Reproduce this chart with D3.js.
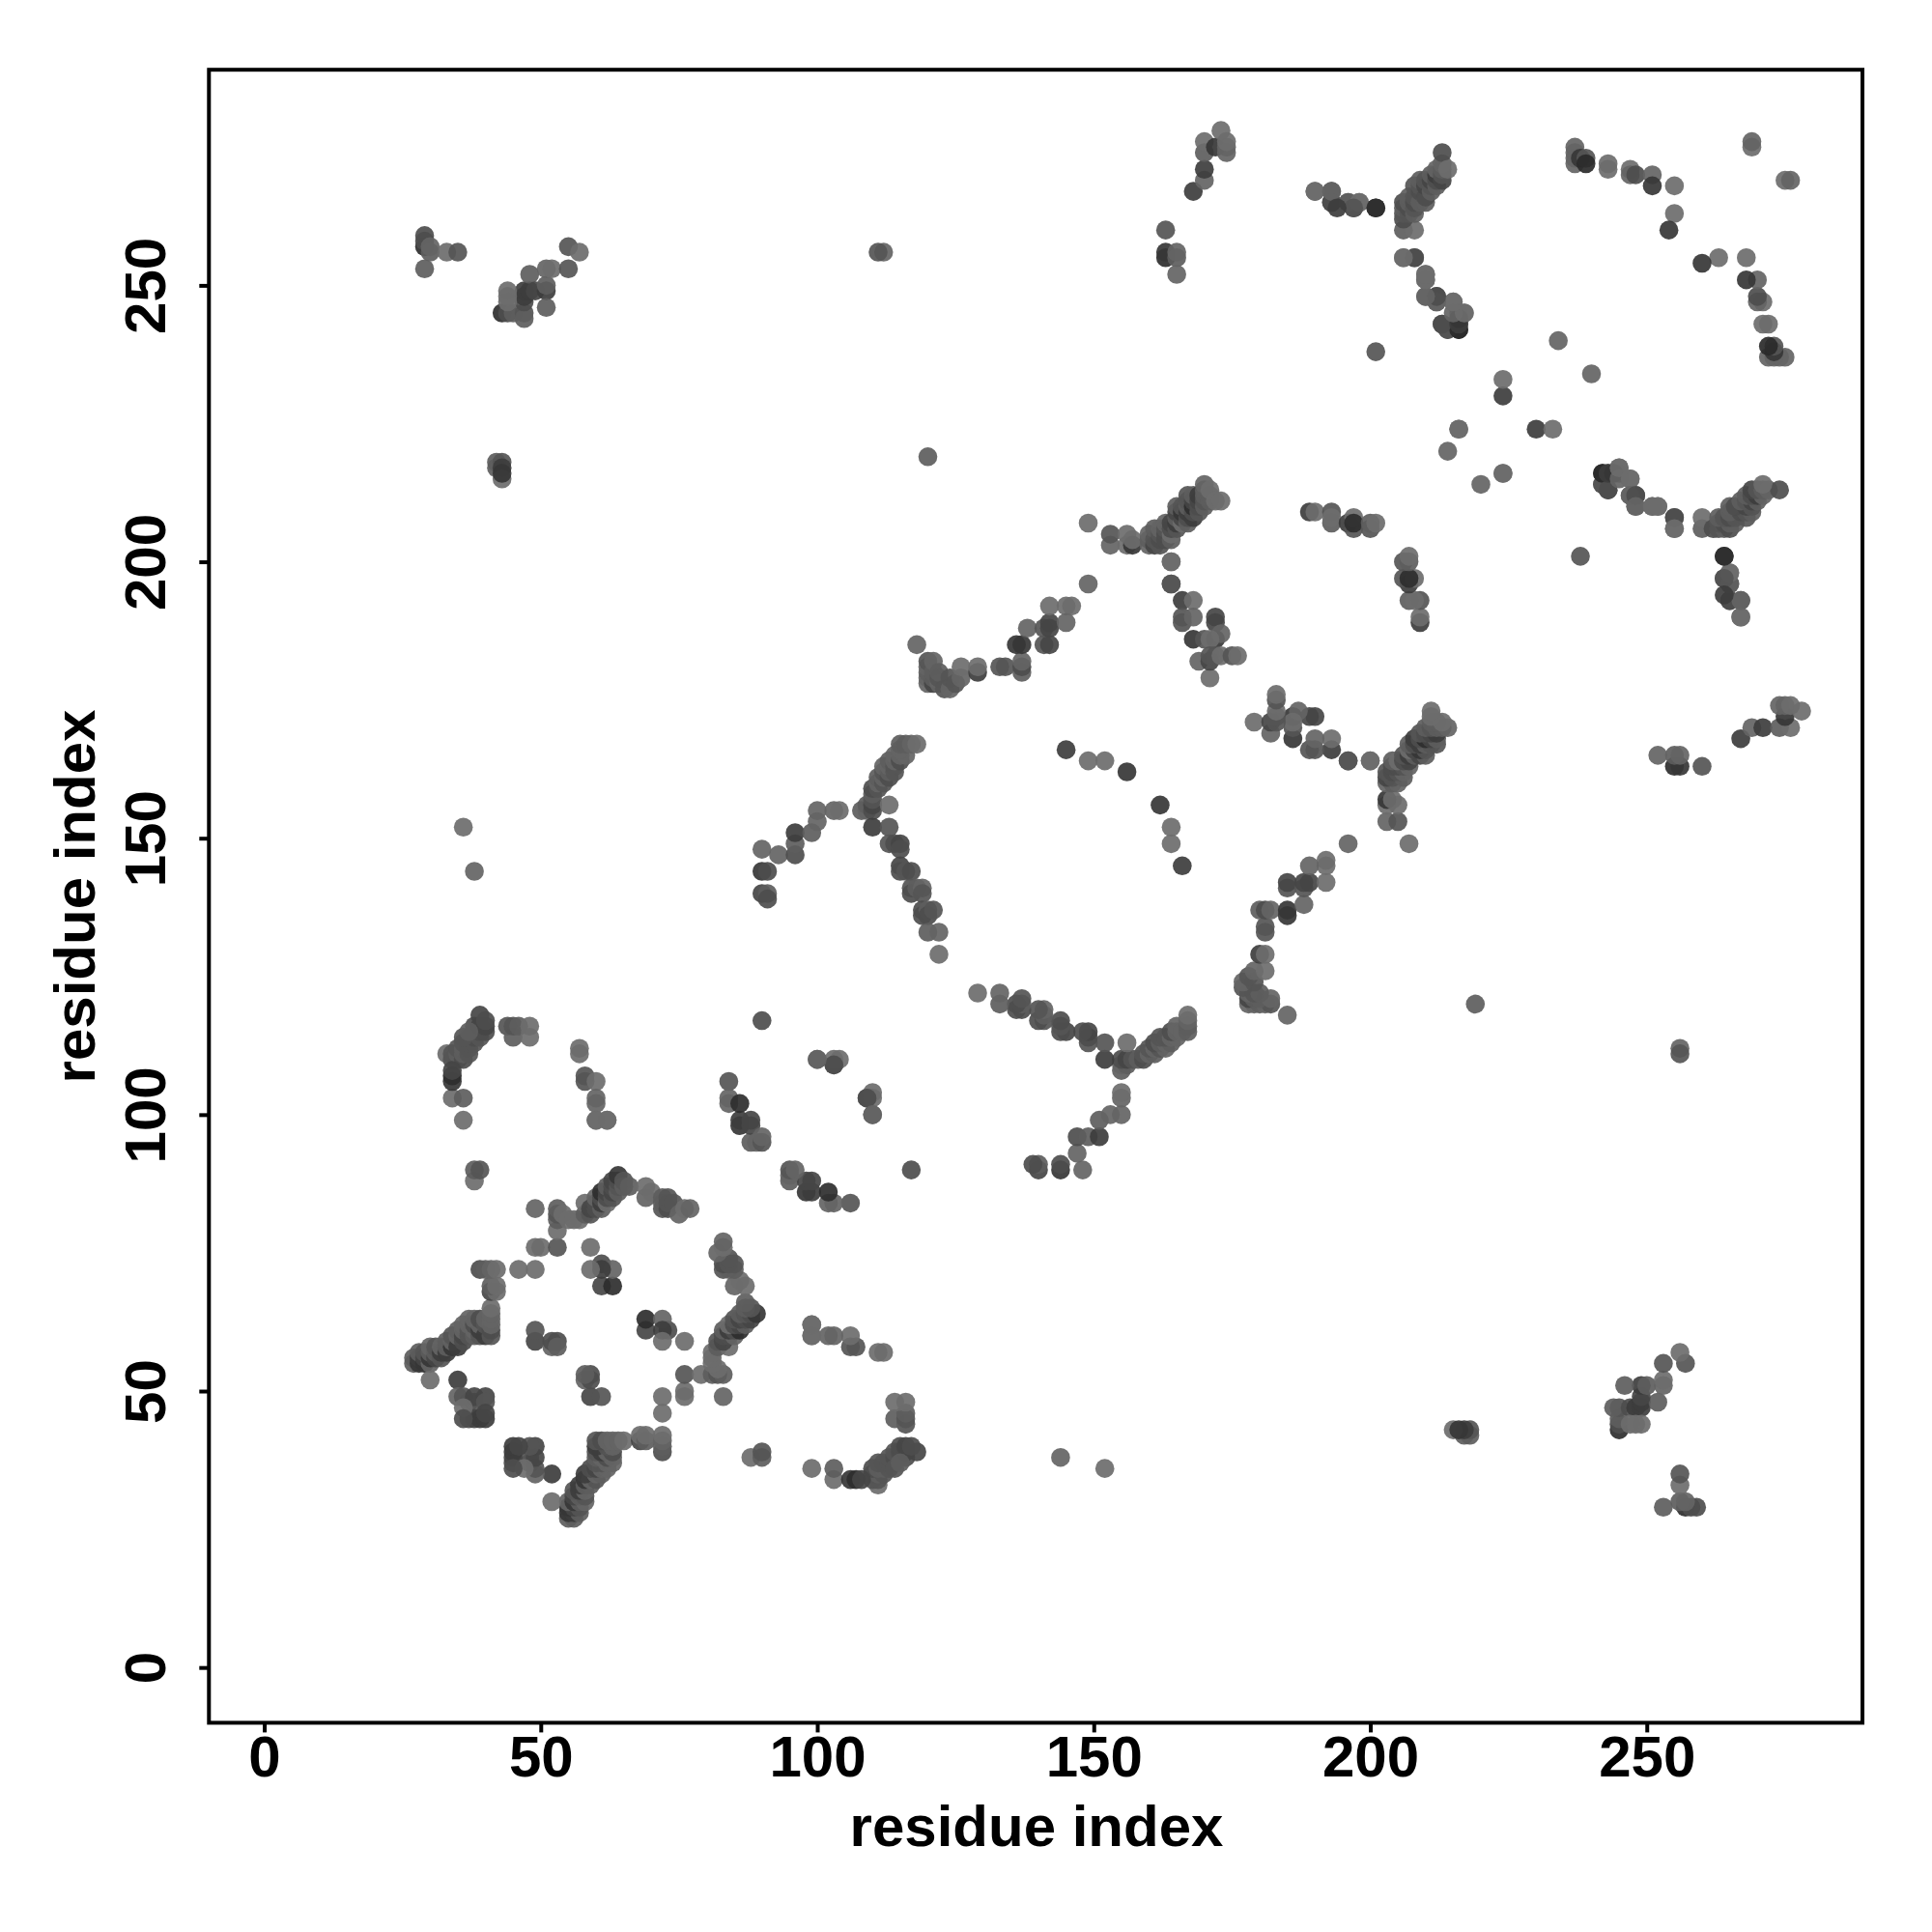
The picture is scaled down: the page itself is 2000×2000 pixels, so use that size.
<!DOCTYPE html>
<html><head><meta charset="utf-8">
<style>html,body{margin:0;padding:0;background:#fff}svg{display:block}text{font-family:"Liberation Sans",Arial,sans-serif;font-weight:bold;fill:#000}</style>
<script src="https://cdn.jsdelivr.net/npm/d3@7"></script></head><body>
<svg id="c" width="2000" height="2000"></svg>
<script>
// Residue contacts: [residue i, residue j, contact strength 0..1]
const rosetteLeft=[[27,55,.3],[27,56,.3],[28,55,.8],[28,56,.7],[28,57,.3],[29,55,.8],[29,56,.6],[29,57,.4],[30,55,.2],[30,56,.8],[30,57,.3],[30,58,.2],[31,56,.6],[31,57,.3],[31,58,.4],[32,56,.4],[32,57,.7],[32,58,.2],[33,57,.7],[33,58,.3],[33,59,.3],[34,58,.8],[34,59,.2],[34,60,.4],[35,58,.7],[35,60,.2],[35,61,.3],[36,59,.5],[36,60,.6],[36,61,.2],[36,62,.2],[37,60,.4],[37,61,.4],[37,62,.2],[37,63,.2],[38,60,.3],[38,61,.2],[38,62,.5],[38,63,.2],[39,60,.4],[39,61,.7],[39,62,.2],[39,63,.5],[40,60,.7],[40,62,.4],[40,63,.2],[41,60,.4],[41,61,.5],[41,62,.2],[41,63,.2],[41,64,.2],[41,65,.1],[41,68,.6],[42,68,.1],[41,69,.3],[42,69,.1],[39,72,.5],[40,72,.3],[41,72,.2],[42,72,.1],[46,72,.1],[49,72,.1]];
const rosetteTop=[[49,76,.1],[50,76,.1],[53,76,.4],[49,83,.2],[53,79,.1],[53,81,.3],[53,82,.4],[53,83,.3],[54,82,.1],[55,81,.1],[56,81,.1],[57,81,.1],[58,82,.3],[58,84,.1],[59,82,.4],[59,83,.6],[60,83,.5],[60,84,.5],[60,85,.2],[61,83,.3],[61,84,.7],[61,85,.5],[61,86,.9],[62,84,.1],[62,85,.5],[62,86,.6],[62,87,.3],[63,85,.4],[63,86,.6],[63,87,.5],[63,88,.6],[64,86,.3],[64,87,.4],[64,88,.5],[64,89,.8],[65,87,.3],[65,88,.4],[66,87,.3],[69,85,.2],[69,87,.1],[70,86,.1],[72,83,.4],[72,84,.3],[72,85,.3],[73,83,.5],[73,84,.4],[73,85,.4],[74,84,.4],[75,82,.2],[76,83,.1],[77,83,.2]];
const rosetteInner=[[49,59,.6],[49,61,.4],[52,58,.2],[52,59,.5],[53,59,.5],[59,76,.1],[61,69,.6],[63,69,.9],[61,73,.5],[63,72,.2],[61,72,.7],[59,72,.1],[53,58,.3],[30,52,.1],[35,52,.7],[35,49,.2],[36,49,.4],[37,48,.4],[38,48,.4],[38,49,.6],[40,49,.6],[40,48,.4],[37,45,.5],[38,45,.6],[39,45,.7],[40,45,.7],[40,46,.6],[36,47,.1],[36,45,.5]];
const helixLow=[[33,111,.1],[34,110,.4],[34,111,.4],[35,110,.4],[35,111,.3],[35,112,.4],[36,110,.5],[36,111,.3],[36,112,.3],[36,113,.4],[37,111,.4],[37,112,.4],[37,113,.4],[37,114,.5],[38,113,.4],[38,114,.5],[38,115,.5],[38,116,.5],[39,114,.4],[39,115,.5],[39,116,.6],[39,118,.6],[40,115,.5],[40,116,.6],[40,117,.5],[34,103,.1],[34,106,.8],[34,107,.9],[34,108,.6],[36,103,.3],[36,99,.1],[38,88,.1],[38,90,.3],[39,90,.4],[44,116,.4],[45,114,.3],[45,116,.4],[46,116,.3],[48,114,.1],[48,116,.1],[57,111,.1],[57,112,.1],[58,106,.4],[58,107,.4],[60,106,.1],[60,102,.2],[60,103,.2],[60,99,.1],[62,99,.1]];
const farLow=[[84,106,.4],[84,102,.2],[84,103,.2],[86,98,.8],[86,99,.7],[86,102,.9],[88,95,.3],[88,98,.6],[88,99,.6],[89,95,.2],[90,95,.4],[90,96,.2],[90,117,.5],[100,110,.4],[103,109,.5],[104,110,.1],[103,110,.1],[103,109,.5],[100,110,.2],[29,253,.3],[29,257,.9],[29,258,.5],[29,259,.5],[30,256,.3],[30,257,.2],[33,256,.1],[35,256,.4],[38,144,.2],[36,152,.1],[36,114,.4],[37,115,.3],[60,99,.1],[62,99,.1]];
const strandB=[[108,155,.3],[109,155,.2],[109,156,.3],[110,155,.5],[110,156,.6],[110,157,.4],[110,158,.3],[110,159,.5],[111,159,.4],[111,160,.2],[111,161,.3],[112,160,.4],[112,161,.2],[112,162,.4],[112,163,.2],[113,156,.1],[113,161,.5],[113,162,.3],[113,163,.2],[113,164,.3],[114,162,.4],[114,163,.4],[114,164,.2],[114,165,.2],[115,164,.5],[115,165,.2],[116,165,.2],[115,166,.2],[115,167,.3],[116,167,.3],[117,167,.2],[118,167,.1],[110,152,.7],[113,152,.4],[113,149,.4],[114,149,.5],[115,149,.6],[115,148,.5],[115,145,.6],[115,144,.5],[116,144,.4],[117,144,.5],[117,141,.4],[117,140,.5],[118,141,.3],[119,141,.2],[119,140,.4],[119,137,.5],[119,136,.5],[120,137,.3],[120,136,.5],[120,133,.3],[121,137,.4],[122,133,.2],[122,129,.1],[145,166,.7],[149,164,.1],[152,164,.1],[156,162,.8]];
const strandC=[[90,140,.6],[91,140,.3],[91,139,.5],[90,144,.8],[91,144,.5],[90,148,.2],[93,147,.2],[96,147,.5],[96,149,.3],[96,151,.7],[99,151,.3],[100,153,.2],[100,155,.2],[103,155,.2],[104,155,.1]];
const strandD=[[118,185,.2],[120,178,.2],[120,179,.2],[120,180,.3],[120,181,.2],[120,182,.4],[121,178,.6],[121,179,.3],[121,180,.3],[121,182,.2],[122,178,.2],[122,179,.4],[122,180,.3],[123,177,.4],[124,177,.2],[124,179,.4],[125,178,.4],[126,179,.2],[126,181,.1],[129,180,.7],[129,181,.1],[133,181,.4],[134,181,.4],[137,180,.3],[137,181,.5],[137,182,.2],[137,185,.8],[136,185,.8],[138,188,.2],[141,185,.4],[142,185,.6],[141,188,.4],[142,188,.6],[142,189,.6],[142,192,.1],[145,192,.1],[146,192,.1],[145,189,.2],[149,196,.2],[149,207,.1],[153,203,.2],[153,205,.4],[156,203,.1],[156,205,.1],[157,203,.8],[157,204,.1]];
const strandE=[[160,203,.2],[160,204,.3],[160,205,.2],[161,203,.6],[161,204,.4],[161,206,.3],[162,203,.4],[162,204,.5],[162,205,.4],[162,206,.2],[163,204,.5],[163,205,.5],[163,206,.4],[163,207,.2],[164,204,.3],[164,205,.1],[164,206,.5],[164,207,.6],[165,206,.4],[165,207,.7],[165,208,.3],[165,209,.6],[165,210,.3],[166,207,.1],[166,208,.6],[166,209,.8],[166,210,.4],[167,207,.3],[167,208,.5],[167,209,.7],[167,210,.3],[167,211,.4],[167,212,.4],[168,208,.7],[168,209,.5],[168,210,.9],[168,211,.6],[168,212,.3],[169,209,.4],[169,210,.5],[169,211,.6],[169,212,.7],[170,210,.3],[170,211,.4],[170,212,.3],[170,213,.3],[170,214,.2],[171,211,.3],[171,212,.3],[171,213,.1],[172,211,.1],[173,211,.1]];
const strandF=[[164,200,.1],[164,196,.4],[166,193,.7],[168,193,.1],[166,189,.4],[166,190,.4],[168,190,.2],[168,186,.8],[170,186,.4],[172,186,.8],[172,190,.6],[172,189,.6],[173,187,.2],[171,186,.1],[169,182,.2],[171,179,.1],[171,182,.6],[171,183,.4],[172,183,.4],[173,183,.1],[175,183,.4],[176,183,.1]];
const strandG=[[189,209,.7],[190,209,.1],[193,209,.4],[193,207,.3],[193,208,.1],[196,207,.7],[197,206,.4],[197,208,.1],[197,207,.9],[200,206,.4],[200,207,.3],[201,207,.1],[164,196,.4],[164,200,.1]];
const topRight=[[163,260,.4],[163,255,.9],[163,256,.8],[165,255,.3],[165,256,.2],[165,252,.2],[168,267,.7],[170,269,.2],[170,271,.7],[170,274,.3],[170,276,.1],[172,275,.8],[173,278,.1],[174,274,.2],[174,275,.2],[174,276,.1],[190,267,.1],[193,267,.6],[193,265,.7],[196,265,.1],[197,264,.8],[198,265,.1],[201,264,.9],[201,238,.4],[206,255,.1],[208,255,.5],[206,260,.3],[208,260,.1],[206,262,.5],[206,263,.4],[206,264,.3],[206,265,.5],[207,263,.4],[207,264,.5],[207,265,.3],[207,266,.3],[208,263,.3],[208,264,.4],[208,265,.5],[208,266,.4],[208,268,.4],[209,265,.3],[209,267,.5],[209,268,.4],[209,269,.3],[210,265,.3],[210,266,.5],[210,268,.6],[210,269,.4],[211,267,.3],[211,268,.4],[211,269,.6],[211,270,.3],[212,268,.3],[212,269,.5],[212,270,.7],[212,271,.2],[213,269,.6],[213,270,.4],[213,271,.3],[213,272,.2],[213,274,.5],[214,271,.1],[210,251,.3],[210,252,.1],[210,248,.1],[212,248,.6],[212,247,.4],[215,247,.1],[216,245,.3],[217,245,.1],[213,243,.6],[214,242,.6],[216,242,.95],[216,243,.7],[216,244,.2],[224,230,.7],[224,233,.1],[216,224,.1],[214,220,.2],[224,216,.1],[234,240,.2]];
const arcTop=[[237,275,.2],[237,274,.2],[237,273,.2],[237,272,.2],[238,273,.8],[239,273,.4],[239,272,.95],[243,272,.1],[243,271,.1],[247,271,.1],[247,270,.2],[248,270,.5],[251,270,.2],[251,268,.8],[255,268,.1],[255,263,.1],[254,260,.8],[269,275,.1],[269,276,.2]];
const arcMid=[[242,214,.4],[242,216,.95],[243,213,.5],[243,216,.7],[244,216,.8],[245,215,.2],[245,217,.1],[247,215,.1],[247,212,.2],[248,212,.5],[248,210,.2],[251,210,.1],[252,210,.1],[255,208,.5],[255,206,.1]];
const rightLow=[[120,219,.3],[112,256,.2],[111,256,.4],[42,217,.3],[42,218,.3],[43,218,.4],[43,217,.7],[43,215,.1],[43,216,.8]];
const bottomRight=[[43,245,.9],[44,245,.5],[45,245,.3],[47,245,.4],[47,244,.3],[47,247,.5],[47,248,.7],[47,249,.7],[48,249,.7],[48,252,.3],[49,249,.6],[51,249,.7],[51,250,.3],[51,246,.3],[51,253,.2],[52,253,.1],[55,253,.4],[55,257,.4],[57,256,.1],[44,248,.1],[44,249,.1],[44,247,.1]];
const highFar=[[190,267,.1],[193,265,.5],[193,267,.2],[196,265,.3],[198,265,.1],[201,264,.9],[197,264,.4],[194,264,.7]];
const tickValues=[0,50,100,150,200,250];
const axisTitle="residue index";

const contacts=[...rosetteLeft,...rosetteTop,...rosetteInner,...helixLow,...farLow,...strandB,...strandC,...strandD,...strandE,...strandF,...strandG,...topRight,...arcTop,...arcMid,...rightLow,...bottomRight,...highFar];
const points=contacts.flatMap(([i,j,s])=>[{x:i,y:j,s},{x:j,y:i,s}]);

const x=d3.scaleLinear().domain([-10,289]).range([216.3,1928]);
const y=d3.scaleLinear().domain([-10,289]).range([1783.4,72.2]);
const grey=d3.scaleLinear().domain([0,1]).range(["#747474","#262626"]);
const svg=d3.select("#c");
svg.append("g").selectAll("circle").data(points).join("circle")
  .attr("cx",d=>x(d.x)).attr("cy",d=>y(d.y)).attr("r",9.8)
  .attr("fill",d=>grey(d.s)).attr("fill-opacity",0.92);
svg.append("rect").attr("x",216.3).attr("y",72.2).attr("width",1928-216.3).attr("height",1783.4-72.2)
  .attr("fill","none").attr("stroke","#000").attr("stroke-width",4);
const ax=svg.append("g").attr("transform","translate(0,1783.4)").call(d3.axisBottom(x).tickValues(tickValues).tickSize(10).tickPadding(10));
const ay=svg.append("g").attr("transform","translate(216.3,0)").call(d3.axisLeft(y).tickValues(tickValues).tickSize(10).tickPadding(8));
[ax,ay].forEach(a=>{a.select(".domain").remove();a.selectAll("line").attr("stroke","#000").attr("stroke-width",4);
 a.selectAll("text").style("font-family",'"Liberation Sans"').style("font-weight","bold").style("font-size","60px").attr("fill","#000");});
ax.selectAll("text").each(function(){d3.select(this).attr("y",56).attr("dy",0)});
ay.selectAll("text").each(function(){d3.select(this).attr("text-anchor","middle").attr("transform","translate(-45,0) rotate(-90)").attr("x",0).attr("y",0).attr("dy",0)});
svg.append("text").attr("x",1073).attr("y",1911).attr("text-anchor","middle").style("font-size","60px").text(axisTitle);
svg.append("text").attr("transform","translate(98,928) rotate(-90)").attr("text-anchor","middle").style("font-size","60px").text(axisTitle);
</script></body></html>
